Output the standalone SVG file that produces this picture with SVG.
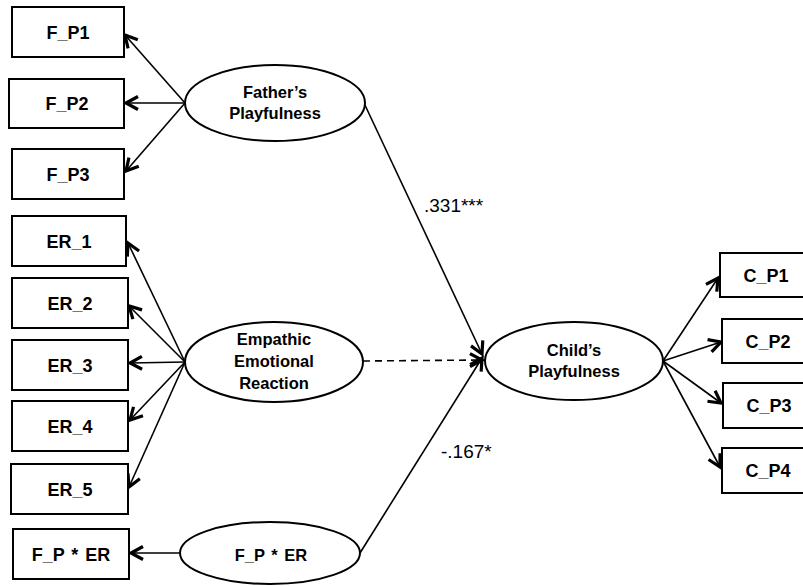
<svg xmlns="http://www.w3.org/2000/svg" width="803" height="586" viewBox="0 0 803 586">
<style>
.box{fill:#fff;stroke:#000;stroke-width:2}
.ell{fill:#fff;stroke:#000;stroke-width:2}
.bt{font-family:"Liberation Sans",Arial,sans-serif;font-weight:bold;font-size:18px;text-anchor:middle;fill:#000}
.et{font-family:"Liberation Sans",Arial,sans-serif;font-weight:bold;font-size:16.5px;text-anchor:middle;fill:#000}
.lbl{font-family:"Liberation Sans",Arial,sans-serif;font-size:19px;fill:#000}
.c{stroke:#000;stroke-width:1.6;fill:none;marker-end:url(#ah)}
.d{stroke-dasharray:7,5}
</style>
<defs>
<marker id="ah" markerUnits="userSpaceOnUse" markerWidth="18" markerHeight="18" viewBox="0 0 18 18" refX="14" refY="9" orient="auto">
<path d="M2,2.5 L14,9 L2,15.5" fill="none" stroke="#000" stroke-width="3.2" stroke-linejoin="miter"/>
</marker>
</defs>
<g id="connectors">
<line class="c" x1="185" y1="103" x2="125" y2="35"/>
<line class="c" x1="185" y1="103" x2="126" y2="103"/>
<line class="c" x1="185" y1="103" x2="126" y2="171"/>
<line class="c" x1="185" y1="362" x2="128" y2="243"/>
<line class="c" x1="185" y1="362" x2="129" y2="306"/>
<line class="c" x1="185" y1="362" x2="130" y2="363"/>
<line class="c" x1="185" y1="362" x2="130" y2="420"/>
<line class="c" x1="185" y1="362" x2="129" y2="487"/>
<line class="c" x1="180" y1="553" x2="131" y2="553"/>
<line class="c" x1="364" y1="103" x2="482" y2="354"/>
<line class="c d" x1="363" y1="361" x2="482" y2="360"/>
<line class="c" x1="360" y1="553" x2="482" y2="358"/>
<line class="c" x1="663" y1="361" x2="718" y2="278"/>
<line class="c" x1="663" y1="361" x2="721" y2="342"/>
<line class="c" x1="663" y1="361" x2="721" y2="403"/>
<line class="c" x1="663" y1="361" x2="720" y2="467"/>
</g>
<g id="F_P1"><rect class="box" x="12" y="7" width="112" height="50"/><text class="bt" x="68" y="39">F_P1</text></g>
<g id="F_P2"><rect class="box" x="9" y="79" width="115" height="49"/><text class="bt" x="67" y="110">F_P2</text></g>
<g id="F_P3"><rect class="box" x="12" y="149" width="112" height="50"/><text class="bt" x="68" y="181">F_P3</text></g>
<g id="ER_1"><rect class="box" x="12" y="216" width="114" height="50"/><text class="bt" x="69" y="248">ER_1</text></g>
<g id="ER_2"><rect class="box" x="12" y="278" width="116" height="50"/><text class="bt" x="70" y="310">ER_2</text></g>
<g id="ER_3"><rect class="box" x="12" y="340" width="116" height="50"/><text class="bt" x="70" y="372">ER_3</text></g>
<g id="ER_4"><rect class="box" x="12" y="401" width="116" height="50"/><text class="bt" x="70" y="433">ER_4</text></g>
<g id="ER_5"><rect class="box" x="11" y="464" width="117" height="50"/><text class="bt" x="70" y="496">ER_5</text></g>
<g id="F_P_ER_box"><rect class="box" x="13" y="529" width="116" height="50"/><text class="bt" x="71" y="561" word-spacing="2">F_P * ER</text></g>
<g id="C_P1"><rect class="box" x="720" y="253" width="92" height="44"/><text class="bt" x="766" y="282">C_P1</text></g>
<g id="C_P2"><rect class="box" x="722" y="319" width="92" height="44"/><text class="bt" x="768" y="348">C_P2</text></g>
<g id="C_P3"><rect class="box" x="723" y="383" width="92" height="45"/><text class="bt" x="769" y="412">C_P3</text></g>
<g id="C_P4"><rect class="box" x="722" y="448" width="92" height="45"/><text class="bt" x="768" y="477">C_P4</text></g>
<g id="FathersPlayfulness"><ellipse class="ell" cx="275" cy="103" rx="90" ry="38"/><text class="et" x="275" y="98">Father’s</text><text class="et" x="275" y="119">Playfulness</text></g>
<g id="EmpathicEmotionalReaction"><ellipse class="ell" cx="274" cy="362" rx="89" ry="40"/><text class="et" x="274" y="345">Empathic</text><text class="et" x="274" y="367">Emotional</text><text class="et" x="274" y="389">Reaction</text></g>
<g id="ChildsPlayfulness"><ellipse class="ell" cx="574" cy="361" rx="89" ry="39"/><text class="et" x="574" y="356">Child’s</text><text class="et" x="574" y="377">Playfulness</text></g>
<g id="F_P_ER"><ellipse class="ell" cx="270" cy="553" rx="90" ry="31"/><text class="et" x="271" y="561" font-size="18" word-spacing="2">F_P * ER</text></g>
<g id="labels"><text class="lbl" x="424" y="212">.331***</text><text class="lbl" x="441" y="458">-.167*</text></g>
</svg>
